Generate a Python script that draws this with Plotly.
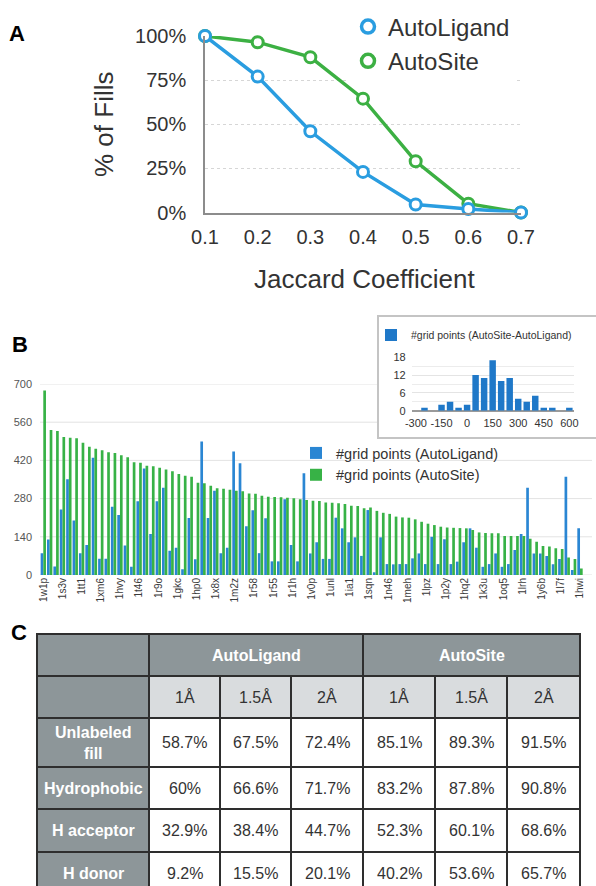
import plotly.graph_objects as go

W, H = 596, 886


def px(x):
    return x / W


def py(y):
    return 1 - y / H


# ---------------- Panel A data ----------------
jaccard = [0.1, 0.2, 0.3, 0.4, 0.5, 0.6, 0.7]
fills_autoligand = [100, 77, 46, 23, 4.5, 2, 0]
fills_autosite = [100, 96.5, 88, 64.5, 29, 5, 0]
pct_ticks = [0, 25, 50, 75, 100]

# ---------------- Panel B data ----------------
complex_labels = ["1w1p", "1s3v", "1tt1", "1xm6", "1hvy", "1t46", "1r9o", "1gkc",
                  "1hp0", "1x8x", "1m2z", "1r58", "1r55", "1r1h", "1v0p", "1unl",
                  "1ia1", "1sqn", "1n46", "1meh", "1lpz", "1p2y", "1hq2", "1k3u",
                  "1oq5", "1lrh", "1y6b", "1l7f", "1hwi"]
label_step = 3
grid_autoligand = [80, 130, 31, 240, 351, 200, 80, 110, 430, 60,
                   60, 250, 220, 108, 30, 270, 390, 150, 270, 320,
                   89, 100, 21, 209, 58, 489, 209, 309, 80, 100,
                   453, 410, 179, 237, 80, 208, 50, 50, 278, 110,
                   50, 373, 79, 120, 59, 59, 210, 171, 120, 138,
                   70, 238, 10, 138, 40, 39, 40, 40, 61, 79,
                   40, 140, 40, 131, 40, 49, 120, 171, 100, 30,
                   40, 79, 30, 40, 92, 150, 320, 79, 79, 70,
                   39, 59, 360, 18, 171]
grid_autosite = [676, 531, 528, 506, 503, 501, 485, 470, 463, 457,
                 450, 447, 439, 432, 413, 411, 400, 399, 393, 387,
                 380, 370, 364, 360, 338, 336, 327, 318, 316, 312,
                 309, 307, 299, 298, 290, 287, 286, 285, 283, 281,
                 278, 275, 272, 271, 266, 265, 263, 260, 254, 253,
                 245, 247, 235, 228, 224, 214, 211, 210, 204, 195,
                 188, 183, 177, 174, 173, 172, 171, 165, 156, 154,
                 153, 153, 143, 143, 143, 143, 133, 122, 106, 104,
                 98, 95, 64, 59, 24]
b_ticks = [0, 140, 280, 420, 560, 700]

# inset histogram
diff_bins = [-300, -250, -200, -150, -100, -50, 0, 50, 100, 150,
             200, 250, 300, 350, 400, 450, 500, 550, 600]
diff_counts = [0, 1, 0, 2, 3, 1, 2, 12, 11, 17, 10, 11, 4, 3, 5, 1, 1, 0, 1]
diff_ticks = [-300, -150, 0, 150, 300, 450, 600]
count_ticks = [0, 6, 12, 18]

# ---------------- Panel C data ----------------
table_groups = ["AutoLigand", "AutoSite"]
table_res = ["1Å", "1.5Å", "2Å", "1Å", "1.5Å", "2Å"]
table_rows = ["Unlabeled<br>fill", "Hydrophobic", "H acceptor", "H donor"]
table_values = [
    ["58.7%", "67.5%", "72.4%", "85.1%", "89.3%", "91.5%"],
    ["60%", "66.6%", "71.7%", "83.2%", "87.8%", "90.8%"],
    ["32.9%", "38.4%", "44.7%", "52.3%", "60.1%", "68.6%"],
    ["9.2%", "15.5%", "20.1%", "40.2%", "53.6%", "65.7%"],
]

# ---------------- styles ----------------
FONT = "Liberation Sans"
BLUE_A = "#2a9de0"
GREEN_A = "#3cb043"
BLUE_B = "#2a86d3"
GREEN_B = "#37b246"
BLUE_INSET = "#1f78c8"
TXT = "#333333"

fig = go.Figure()

# Panel A lines
for vals, col, name in [(fills_autosite, GREEN_A, "AutoSite"),
                        (fills_autoligand, BLUE_A, "AutoLigand")]:
    fig.add_trace(go.Scatter(
        x=jaccard, y=vals, mode="lines+markers", name=name,
        line=dict(color=col, width=3.5),
        marker=dict(size=11, color="white", line=dict(color=col, width=3)),
        cliponaxis=False, showlegend=False, xaxis="x", yaxis="y"))
for col, name in [(BLUE_A, "AutoLigand"), (GREEN_A, "AutoSite")]:
    fig.add_trace(go.Scatter(
        x=[None], y=[None], mode="markers", name=name,
        marker=dict(size=13, color="white", line=dict(color=col, width=3.5)),
        legend="legend", xaxis="x", yaxis="y"))

# Panel B bars
bar_x = list(range(len(grid_autosite)))
fig.add_trace(go.Bar(x=bar_x, y=grid_autoligand, name="#grid points (AutoLigand)",
                     marker=dict(color=BLUE_B, line=dict(width=0)),
                     xaxis="x2", yaxis="y2", legend="legend2"))
fig.add_trace(go.Bar(x=bar_x, y=grid_autosite, name="#grid points (AutoSite)",
                     marker=dict(color=GREEN_B, line=dict(width=0)),
                     xaxis="x2", yaxis="y2", legend="legend2"))

# inset histogram
fig.add_trace(go.Bar(x=diff_bins, y=diff_counts, width=38,
                     name="#grid points (AutoSite-AutoLigand)",
                     marker=dict(color=BLUE_INSET, line=dict(width=0)),
                     xaxis="x3", yaxis="y3", legend="legend3"))

shapes = []
annotations = []

# Panel B gridlines (stop at inset box)
b_bottom, b_top = 575, 384
inset_left, inset_top, inset_right, inset_bottom = 378, 316, 600, 438
inset_bottom_val = (b_bottom - inset_bottom) / (b_bottom - b_top) * b_ticks[-1]
for v in b_ticks:
    x_end = inset_left if v > inset_bottom_val else 592
    shapes.append(dict(type="line", xref="paper", yref="y2", x0=px(40), x1=px(x_end),
                       y0=v, y1=v, line=dict(color="#e3e3e3", width=1), layer="below"))

# inset box
shapes.append(dict(type="rect", xref="paper", yref="paper",
                   x0=px(inset_left), x1=px(inset_right), y0=py(inset_bottom), y1=py(inset_top),
                   line=dict(color="#c4c4c4", width=2), fillcolor="white", layer="below"))

# ---------------- Table ----------------
col_w = [112, 71, 71, 72, 72, 72, 73]
row_h = [42, 42, 49, 42, 43, 43]
tx0, ty0 = 37, 634
xs = [tx0]
for w in col_w:
    xs.append(xs[-1] + w)
ys = [ty0]
for h in row_h:
    ys.append(ys[-1] + h)
DARK = "#8d9699"
LIGHT = "#d9dcde"
BORDER = "#2e2e2e"


def cell(c0, c1, r0, r1, fill):
    shapes.append(dict(type="rect", xref="paper", yref="paper",
                       x0=px(xs[c0]), x1=px(xs[c1]), y0=py(ys[r1]), y1=py(ys[r0]),
                       fillcolor=fill, line=dict(color=BORDER, width=2), layer="above"))


def ctext(c0, c1, r0, r1, text, color, bold=False, size=16):
    annotations.append(dict(
        xref="paper", yref="paper",
        x=px((xs[c0] + xs[c1]) / 2), y=py((ys[r0] + ys[r1]) / 2),
        text=("<b>%s</b>" % text) if bold else text, showarrow=False,
        font=dict(family=FONT, size=size, color=color),
        xanchor="center", yanchor="middle"))


cell(0, 1, 0, 1, DARK)
for g, name in enumerate(table_groups):
    cell(1 + 3 * g, 4 + 3 * g, 0, 1, DARK)
    ctext(1 + 3 * g, 4 + 3 * g, 0, 1, name, "white", bold=True)
cell(0, 1, 1, 2, DARK)
for j, r in enumerate(table_res):
    cell(1 + j, 2 + j, 1, 2, LIGHT)
    ctext(1 + j, 2 + j, 1, 2, r, TXT)
for i, rname in enumerate(table_rows):
    cell(0, 1, 2 + i, 3 + i, DARK)
    ctext(0, 1, 2 + i, 3 + i, rname, "white", bold=True)
    for j, v in enumerate(table_values[i]):
        cell(1 + j, 2 + j, 2 + i, 3 + i, "white")
        ctext(1 + j, 2 + j, 2 + i, 3 + i, v, TXT)

# Panel letters
for letter, (lx, ly) in {"A": (17, 33), "B": (20, 344), "C": (19, 632)}.items():
    annotations.append(dict(xref="paper", yref="paper", x=px(lx), y=py(ly),
                            text="<b>%s</b>" % letter, showarrow=False,
                            font=dict(family=FONT, size=22, color="black"),
                            xanchor="center", yanchor="middle"))

# Panel A axis titles
annotations.append(dict(xref="paper", yref="paper", x=px(364), y=py(279),
                        text="Jaccard Coefficient", showarrow=False,
                        font=dict(family=FONT, size=26, color=TXT),
                        xanchor="center", yanchor="middle"))
annotations.append(dict(xref="paper", yref="paper", x=px(104), y=py(125),
                        text="% of Fills", showarrow=False, textangle=-90,
                        font=dict(family=FONT, size=26, color=TXT),
                        xanchor="center", yanchor="middle"))

fig.update_layout(
    width=W, height=H, margin=dict(l=0, r=0, t=0, b=0, autoexpand=False),
    paper_bgcolor="white", plot_bgcolor="white",
    font=dict(family=FONT, color=TXT),
    barmode="group", bargap=0.16, bargroupgap=0.0,
    shapes=shapes, annotations=annotations,
    xaxis=dict(domain=[px(205), px(521)], range=[0.1, 0.7], tickvals=jaccard,
               tickformat=".1f", showline=True, linecolor="#8c8c8c", linewidth=1.5,
               showgrid=False, zeroline=False, ticks="", anchor="y",
               tickfont=dict(size=20, color=TXT), ticklabelstandoff=6),
    yaxis=dict(domain=[py(212.5), py(36)], range=[0, 100], tickvals=pct_ticks,
               ticktext=["%d%%" % v for v in pct_ticks],
               showline=True, linecolor="#8c8c8c", linewidth=1.5,
               showgrid=True, gridcolor="#d6d6d6", griddash="dot", gridwidth=1,
               zeroline=False, ticks="", anchor="x",
               tickfont=dict(size=20, color=TXT), ticklabelstandoff=13),
    xaxis2=dict(domain=[px(40.1), px(583.2)], range=[-0.5, len(grid_autosite) - 0.5],
                tickvals=bar_x[::label_step], ticktext=complex_labels, tickangle=-90,
                showgrid=False, zeroline=False, showline=False, ticks="",
                tickfont=dict(size=10, color="#3a3a3a"), anchor="y2"),
    yaxis2=dict(domain=[py(575), py(384)], range=[0, 700], tickvals=b_ticks,
                showgrid=False, zeroline=False, showline=False, ticks="",
                tickfont=dict(size=11, color="#555555"), anchor="x2",
                ticklabelstandoff=7),
    xaxis3=dict(domain=[px(411.7), px(573.6)], range=[-325, 625], tickvals=diff_ticks,
                ticktext=[str(v) for v in diff_ticks],
                showgrid=False, zeroline=False, showline=False, ticks="", tickangle=0,
                tickfont=dict(size=11, color=TXT), anchor="y3", ticklabelstandoff=4),
    yaxis3=dict(domain=[py(410.7), py(357.3)], range=[0, 18], tickvals=count_ticks,
                showgrid=True, gridcolor="#e4e4e4", zeroline=True, zerolinecolor="#9a9a9a",
                zerolinewidth=1.5, showline=False, ticks="",
                minor=dict(dtick=3, showgrid=True, gridcolor="#ececec"),
                tickfont=dict(size=11, color=TXT), anchor="x3", ticklabelstandoff=5),
    legend=dict(x=px(348), y=py(44), xanchor="left", yanchor="middle",
                bgcolor="white", font=dict(family=FONT, size=24, color=TXT),
                tracegroupgap=0, itemwidth=30),
    legend2=dict(x=px(296), y=py(464), xanchor="left", yanchor="middle",
                 bgcolor="rgba(0,0,0,0)", font=dict(family=FONT, size=14.5, color=TXT),
                 tracegroupgap=0, itemwidth=30),
    legend3=dict(x=px(371), y=py(335), xanchor="left", yanchor="middle",
                 bgcolor="rgba(0,0,0,0)", font=dict(family=FONT, size=10.5, color=TXT),
                 tracegroupgap=0, itemwidth=30),
)

fig.write_html("out.html", config={"displayModeBar": False},
               post_script="document.body.style.margin='0';document.body.style.overflow='hidden';")
